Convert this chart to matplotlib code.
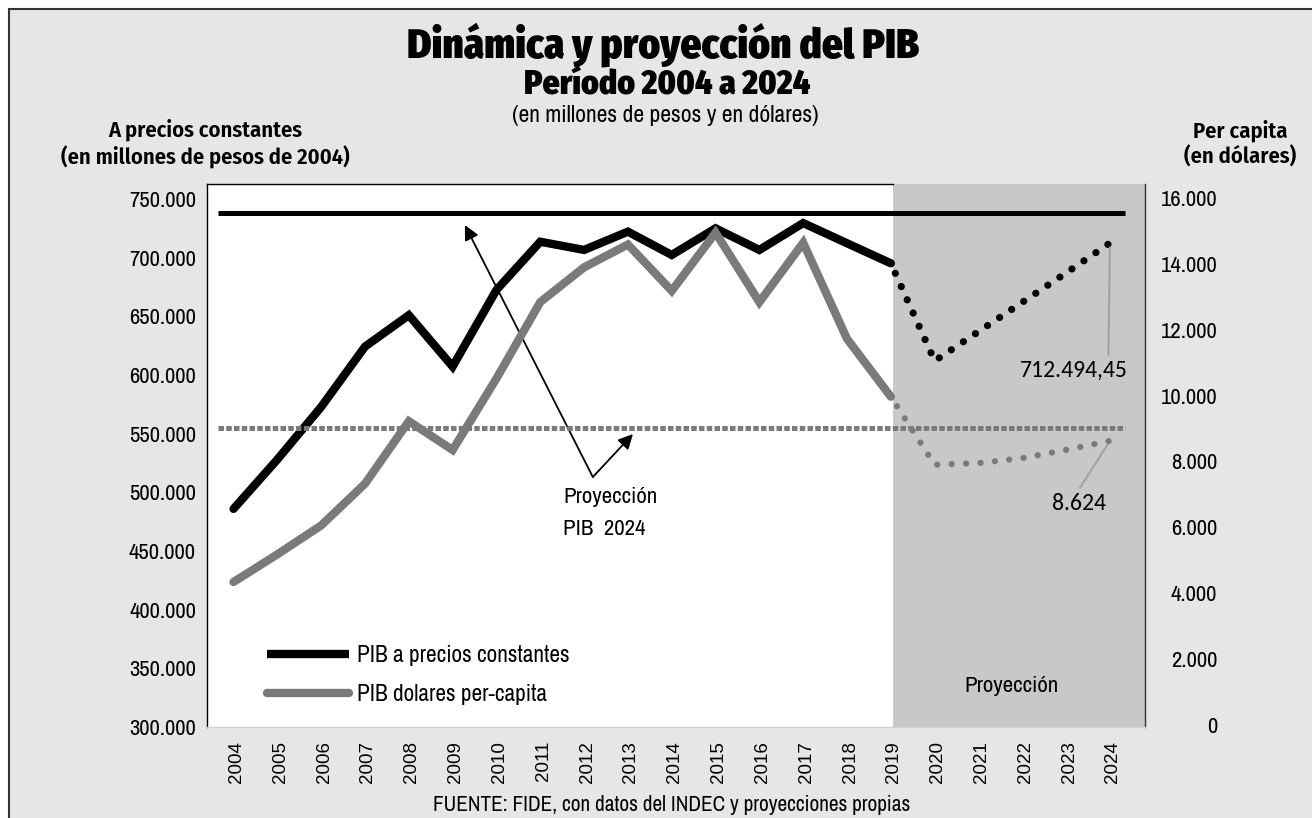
import matplotlib
matplotlib.use('Agg')
import matplotlib.pyplot as plt
from matplotlib.lines import Line2D
from matplotlib.patches import Rectangle
from matplotlib.transforms import ScaledTranslation

# --- data ---------------------------------------------------------------
years = [str(y) for y in range(2004, 2025)]

# PIB a precios constantes (millones de pesos de 2004), 2004-2019
pib_const = [485900, 528000, 572800, 624200, 651000, 607200, 672500, 713600,
             706600, 722200, 702300, 725000, 706600, 729500, 712300, 695200]
# proyeccion 2019-2024
pib_const_proy = [695200, 612000, 637000, 662000, 687000, 712494.45]

# PIB per capita en dolares, 2004-2019
pib_pc = [4340, 5180, 6057, 7323, 9221, 8347, 10516, 12836,
          13891, 14584, 13177, 14945, 12836, 14635, 11722, 9965]
# proyeccion 2019-2024
pib_pc_proy = [9965, 7900, 7950, 8100, 8350, 8624]

# niveles de referencia "Proyeccion PIB 2024"
ref_pib_const = 738000
ref_pib_pc = 9000

NARROW = ['Archivo Narrow', 'DejaVu Sans']
NARROW_BOLD = ['Fira Sans Condensed', 'DejaVu Sans']
TITLE = ['Fira Sans Condensed', 'DejaVu Sans']
ARIAL = ['Liberation Sans', 'Arimo', 'DejaVu Sans']
CALIBRI = ['Carlito', 'DejaVu Sans']
BLACK = '#000000'
GREY = '#7a7a7a'

x_hist = list(range(len(pib_const)))
x_proy = list(range(len(pib_const) - 1, len(years)))

fig = plt.figure(figsize=(13.12, 8.18), dpi=100, facecolor='white')
fig.patches.append(Rectangle((9 / 1312, -0.1), 1.2, 1.1 - 9 / 818,
                             transform=fig.transFigure, facecolor='#e6e6e6',
                             edgecolor='#333333', lw=1.5, zorder=-10))

ax = fig.add_axes([207 / 1312, 1 - 727 / 818, 938 / 1312, 543 / 818])
ax.set_facecolor('white')
ax.set_xlim(-0.605, 20.8)
ax.set_ylim(300000, 762800)

ax.axvspan(15.05, 20.8, color='#c8c8c8', lw=0, zorder=1)

# black: PIB constante
ax.hlines(ref_pib_const, -0.35, 20.35, color=BLACK, lw=3.6, zorder=3)
ax.plot(x_hist, pib_const, color=BLACK, lw=6, solid_joinstyle='miter',
        solid_capstyle='round', zorder=4)
ax.plot(x_proy, pib_const_proy, color=BLACK, lw=5.2,
        linestyle=(0.5, (0.01, 2.0)), dash_capstyle='round', zorder=4)

ax.set_xticks(range(len(years)))
ax.set_xticklabels(years, rotation=90, fontsize=13.5, family=ARIAL)
ax.set_yticks(range(300000, 750001, 50000))
ax.set_yticklabels([f'{v:,}'.replace(',', '.') for v in range(300000, 750001, 50000)],
                   fontsize=16.3, family=NARROW)
ax.tick_params(axis='x', length=0, pad=10)
ax.tick_params(axis='y', length=0, pad=8)
shift = ScaledTranslation(3 / 100, 0, fig.dpi_scale_trans)
for lab in ax.get_xticklabels():
    lab.set_transform(lab.get_transform() + shift)
for s in ax.spines.values():
    s.set_visible(False)

# grey: PIB per capita (eje derecho)
ax2 = ax.twinx()
ax2.set_ylim(-60, 16420)
ax2.hlines(ref_pib_pc, -0.35, 20.35, color=GREY, lw=3.6,
           linestyle=(0, (1.1, 0.45)), zorder=3)
ax2.plot(x_hist, pib_pc, color=GREY, lw=6, solid_joinstyle='miter',
         solid_capstyle='round', zorder=4)
ax2.plot(x_proy, pib_pc_proy, color=GREY, lw=4.5,
         linestyle=(0.5, (0.01, 2.3)), dash_capstyle='round', zorder=4)
ax2.set_yticks(range(0, 16001, 2000))
ax2.set_yticklabels([f'{v:,}'.replace(',', '.') for v in range(0, 16001, 2000)],
                    fontsize=16.3, family=NARROW, ha='right')
ax2.tick_params(axis='y', length=0, pad=52)

for name, sp in ax2.spines.items():
    sp.set_color(BLACK)
    sp.set_linewidth(1.0)
ax2.spines['bottom'].set_color('#d0d0d0')
ax2.spines['right'].set_color('#333333')
ax2.spines['top'].set_bounds(-0.605, 15.05)

# labels on values
ax.annotate('712.494,45', xy=(x_proy[-1], pib_const_proy[-1]),
            xytext=(-26, -92), textcoords='offset points', ha='center', va='center',
            fontsize=17, family=CALIBRI,
            arrowprops=dict(arrowstyle='-', color='#a0a0a0', lw=1.4,
                            relpos=(0.82, 1.0), shrinkA=2, shrinkB=3), zorder=6)
ax2.annotate('8.624', xy=(x_proy[-1], pib_pc_proy[-1]),
             xytext=(-22, -45), textcoords='offset points', ha='center', va='center',
             fontsize=17, family=CALIBRI,
             arrowprops=dict(arrowstyle='-', color='#a0a0a0', lw=1.4,
                             relpos=(0.45, 1.0), shrinkA=2, shrinkB=3), zorder=6)

# "Proyeccion PIB 2024" arrows
ax.text(7.52, 482400, 'Proyección\nPIB  2024', ha='left', va='center', fontsize=16.5,
        family=NARROW, linespacing=1.75, zorder=6)
vertex = (8.20, 513060)
arrow_kw = dict(arrowstyle='-|>', color=BLACK, lw=1.3, mutation_scale=22,
                shrinkA=0, shrinkB=0)
ax.annotate('', xy=(5.28, 727840), xytext=vertex, arrowprops=arrow_kw, zorder=6)
ax.annotate('', xy=(9.115, 549710), xytext=vertex, arrowprops=arrow_kw, zorder=6)

ax2.text(17.75, 0.075, 'Proyección', transform=ax2.get_xaxis_transform(),
         ha='center', va='center', fontsize=16.5, family=NARROW)

# legend
handles = [Line2D([], [], color=BLACK, lw=6, solid_capstyle='butt'),
           Line2D([], [], color=GREY, lw=6, solid_capstyle='round')]
ax2.legend(handles, ['PIB a precios constantes', 'PIB dolares per-capita'],
           loc='center left', bbox_to_anchor=(0.064, 0.0955), frameon=False,
           prop={'family': NARROW, 'size': 16.8}, handlelength=3.5,
           handletextpad=0.35, labelspacing=0.78, borderpad=0, borderaxespad=0)

# titles
fig.text(663 / 1312, 1 - 45 / 818, 'Dinámica y proyección del PIB', ha='center',
         va='center', fontsize=29.5, fontweight='black', family=TITLE)
fig.text(667 / 1312, 1 - 85 / 818, 'Período 2004 a 2024', ha='center',
         va='center', fontsize=24, fontweight='black', family=TITLE)
fig.text(665 / 1312, 1 - 115 / 818, '(en millones de pesos y en dólares)',
         ha='center', va='center', fontsize=17, family=NARROW)
fig.text(205 / 1312, 1 - 144 / 818, 'A precios constantes\n(en millones de pesos de 2004)',
         ha='center', va='center', fontsize=16.2, fontweight='semibold', family=NARROW_BOLD,
         linespacing=1.25)
fig.text(1240 / 1312, 1 - 144 / 818, 'Per capita\n(en dólares)',
         ha='center', va='center', fontsize=16.2, fontweight='semibold', family=NARROW_BOLD,
         linespacing=1.25)
fig.text(672 / 1312, 1 - 805 / 818,
         'FUENTE: FIDE, con datos del INDEC y proyecciones propias',
         ha='center', va='center', fontsize=15.3, family=NARROW)

fig.savefig('out.png', dpi=100, facecolor=fig.get_facecolor())
